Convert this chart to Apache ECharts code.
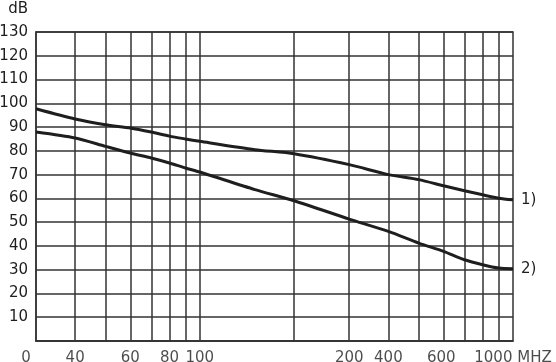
<!DOCTYPE html>
<html>
<head>
<meta charset="utf-8">
<script src="https://cdn.jsdelivr.net/npm/echarts@6/dist/echarts.min.js"></script>
<style>html,body{margin:0;padding:0;background:#fff;}#c{width:556px;height:362px;}</style>
</head>
<body>
<div id="c"></div>
<script>
// Frequencies (MHz) at which curve values were read
const freqs = [30, 40, 50, 60, 70, 80, 90, 100, 150, 200, 300, 400, 500, 600, 700, 800, 900, 1000];
// Curve 1) attenuation, dB
const curve1 = [97.7, 93.4, 91.0, 89.6, 87.9, 86.2, 85.0, 84.0, 80.5, 78.8, 74.2, 70.0, 67.9, 65.3, 63.2, 61.5, 60.1, 59.4];
// Curve 2) attenuation, dB
const curve2 = [87.9, 85.4, 81.9, 79.1, 77.0, 74.9, 72.8, 71.1, 63.7, 59.0, 51.3, 46.1, 41.2, 37.7, 34.2, 32.1, 30.7, 30.4];
// Vertical grid line frequencies
const gridFreqs = [40, 50, 60, 70, 80, 90, 100, 200, 300, 400, 500, 600, 700, 800, 900];
// X tick labels as printed, and the frequency they sit under
const xLabelTexts = ['0', '40', '60', '80', '100', '200', '400', '600', '1000 MHZ'];
const xLabelFreqs = [27.9, 40, 60, 80, 100, 300, 400, 590, 1000];
const seriesNames = ['1)', '2)'];

const FONT = 'DejaVu Sans';
const INK = '#1e1e1e';
const GRID = '#333333';

const chart = echarts.init(document.getElementById('c'), null, {renderer: 'canvas'});
chart.setOption({
  animation: false,
  backgroundColor: '#fff',
  grid: {left: 36, right: 43, top: 32, bottom: 21, outerBoundsMode: 'none', containLabel: false,
    show: true, borderColor: GRID, borderWidth: 1.5, backgroundColor: 'transparent'},
  xAxis: {
    type: 'log', logBase: 10, min: 30, max: 1000,
    axisLine: {show: true, lineStyle: {color: GRID, width: 1.5}},
    axisTick: {show: false}, axisLabel: {show: false},
    splitLine: {show: false}, minorTick: {show: false}
  },
  yAxis: {
    type: 'value', min: 0, max: 130, interval: 10,
    name: 'dB', nameLocation: 'end', nameGap: 15,
    nameTextStyle: {fontFamily: FONT, fontSize: 15, color: INK, align: 'right', padding: [0, 8, 0, 0]},
    axisLine: {show: true, lineStyle: {color: GRID, width: 1.5}},
    axisTick: {show: false},
    axisLabel: {fontFamily: FONT, fontSize: 15, color: INK, margin: 8, formatter: v => v === 0 ? '' : String(v)},
    splitLine: {show: true, lineStyle: {color: GRID, width: 1.5}}
  },
  series: [
    {
      type: 'line', name: seriesNames[0], data: freqs.map((f, i) => [f, curve1[i]]),
      smooth: 0.25, showSymbol: false, symbol: 'none',
      lineStyle: {color: INK, width: 3},
      endLabel: {show: true, formatter: seriesNames[0], fontFamily: FONT, fontSize: 15, color: INK, distance: 8},
      markLine: {
        silent: true, symbol: 'none', label: {show: false},
        lineStyle: {color: GRID, width: 1.5, type: 'solid'},
        data: gridFreqs.map(f => ({xAxis: f}))
      },
      z: 5
    },
    {
      type: 'line', name: seriesNames[1], data: freqs.map((f, i) => [f, curve2[i]]),
      smooth: 0.25, showSymbol: false, symbol: 'none',
      lineStyle: {color: INK, width: 3},
      endLabel: {show: true, formatter: seriesNames[1], fontFamily: FONT, fontSize: 15, color: INK, distance: 8},
      z: 5
    },
    {
      type: 'scatter', data: xLabelFreqs.map(f => [f, 0]), symbolSize: 1, clip: false, silent: true,
      itemStyle: {color: 'rgba(0,0,0,0)'},
      labelLayout: {hideOverlap: false},
      label: {show: true, position: 'bottom', distance: 9, fontFamily: FONT, fontSize: 15, color: INK,
        formatter: p => xLabelTexts[p.dataIndex]}
    }
  ]
});
</script>
</body>
</html>
